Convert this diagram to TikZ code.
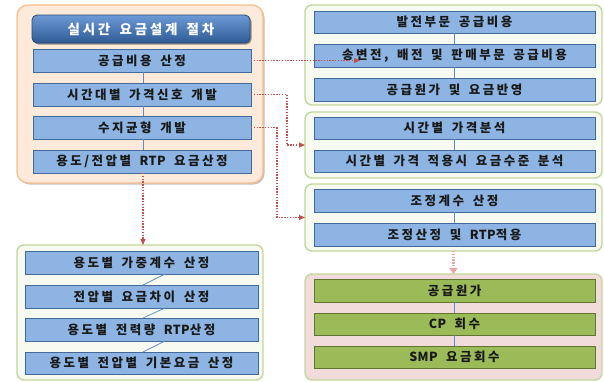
\documentclass[tikz,border=0pt]{standalone}
\usepackage{fontspec}
\newfontfamily\kr{Noto Sans CJK KR}[LetterSpace=20,WordSpace=1.6]
\newfontfamily\krlat{Noto Sans CJK KR}[LetterSpace=3]
\newcommand{\lat}[1]{{\krlat\bfseries #1}}
\usetikzlibrary{arrows.meta,shadows}
\definecolor{boxblue}{HTML}{8DB4E2}
\definecolor{boxblueline}{HTML}{41699A}
\definecolor{boxgreen}{HTML}{9BBB59}
\definecolor{boxgreenline}{HTML}{5F7530}
\definecolor{peachfill}{HTML}{FDEADA}
\definecolor{peachline}{HTML}{F9BE8F}
\definecolor{greenframe}{HTML}{C3D69B}
\definecolor{greenfill}{HTML}{F7FAF0}
\definecolor{pinkfill}{HTML}{F2DCDB}
\definecolor{arrowred}{HTML}{C0504D}
\definecolor{arrowpink}{HTML}{E6A5A3}
\definecolor{linkblue}{HTML}{5B8CC8}
\definecolor{titletop}{HTML}{6D9AD6}
\definecolor{titlebot}{HTML}{2E5A94}
\begin{document}
\begin{tikzpicture}[x=1pt,y=-1pt,
  every node/.style={inner sep=0pt,outer sep=0pt},
  frame/.style={draw,line width=1.4pt,rounded corners=7pt},
  peachframe/.style={frame,draw=peachline,fill=peachfill,rounded corners=11pt,
    drop shadow={shadow xshift=1.5pt,shadow yshift=-1.5pt,opacity=0.25,fill=black}},
  gframe/.style={frame,draw=greenframe,fill=greenfill},
  pframe/.style={frame,draw=greenframe,fill=pinkfill},
  bluebox/.style={draw=boxblueline,line width=0.8pt,fill=boxblue,
    font=\kr\bfseries\fontsize{12.5}{14}\selectfont,text=black!90,
    drop shadow={shadow xshift=1.2pt,shadow yshift=-1.2pt,opacity=0.35,fill=black}},
  greenbox/.style={bluebox,draw=boxgreenline,fill=boxgreen},
  titlebox/.style={draw=titlebot!80!black,line width=0.8pt,rounded corners=5pt,
    top color=titletop,bottom color=titlebot,text=white,
    font=\kr\bfseries\fontsize{13.5}{15}\selectfont,
    drop shadow={shadow xshift=1.5pt,shadow yshift=-1.5pt,opacity=0.4,fill=black}},
  link/.style={draw=linkblue,line width=0.7pt},
  redarrow/.style={draw=arrowred,line width=1.2pt,dash pattern=on 1.4pt off 1.4pt,
    -{Triangle[length=6pt,width=5pt]}},
  pinkarrow/.style={draw=arrowpink,line width=2.2pt,dash pattern=on 1.4pt off 1.4pt,
    -{Triangle[length=6pt,width=8pt]}}
]
\useasboundingbox (0,0) rectangle (604,381);
% frames
\node[peachframe,minimum width=246pt,minimum height=178pt] (LF) at (140,94) {};
\node[gframe,minimum width=297pt,minimum height=100pt] (G1) at (453.5,55) {};
\node[gframe,minimum width=297pt,minimum height=66pt] (G2) at (453.5,145) {};
\node[gframe,minimum width=297pt,minimum height=67pt] (G3) at (453.5,217.5) {};
\node[pframe,minimum width=297pt,minimum height=106pt] (G4) at (453.5,327) {};
\node[gframe,minimum width=246pt,minimum height=135pt] (BF) at (140,312.5) {};
% left top
\node[titlebox,minimum width=218pt,minimum height=28pt] (T) at (141,29) {실시간 요금설계 절차};
\node[bluebox,minimum width=218pt,minimum height=23pt] (B1) at (142,60.5) {공급비용 산정};
\node[bluebox,minimum width=218pt,minimum height=23pt] (B2) at (142,94.5) {시간대별 가격신호 개발};
\node[bluebox,minimum width=218pt,minimum height=23pt] (B3) at (142,127.5) {수지균형 개발};
\node[bluebox,minimum width=218pt,minimum height=23pt] (B4) at (142,161.5) {용도/전압별 \lat{RTP} 요금산정};
% right
\node[bluebox,minimum width=281pt,minimum height=22pt] (R1) at (454.5,22) {발전부문 공급비용};
\node[bluebox,minimum width=281pt,minimum height=23pt] (R2) at (454.5,55.5) {송변전, 배전 및 판매부문 공급비용};
\node[bluebox,minimum width=281pt,minimum height=23pt] (R3) at (454.5,89.5) {공급원가 및 요금반영};
\node[bluebox,minimum width=281pt,minimum height=22pt] (R4) at (454.5,128) {시간별 가격분석};
\node[bluebox,minimum width=281pt,minimum height=22pt] (R5) at (454.5,161) {시간별 가격 적용시 요금수준 분석};
\node[bluebox,minimum width=281pt,minimum height=23pt] (R6) at (454.5,200.5) {조정계수 산정};
\node[bluebox,minimum width=281pt,minimum height=23pt] (R7) at (454.5,234.5) {조정산정 및 \lat{RTP}적용};
\node[greenbox,minimum width=281pt,minimum height=23pt] (R8) at (454.5,290.5) {공급원가};
\node[greenbox,minimum width=281pt,minimum height=22pt] (R9) at (454.5,324) {\lat{CP} 회수};
\node[greenbox,minimum width=281pt,minimum height=22pt] (R10) at (454.5,357) {\lat{SMP} 요금회수};
% bottom left
\node[bluebox,minimum width=233pt,minimum height=23pt] (L1) at (141.5,262.5) {용도별 가중계수 산정};
\node[bluebox,minimum width=233pt,minimum height=23pt] (L2) at (141.5,296.5) {전압별 요금차이 산정};
\node[bluebox,minimum width=233pt,minimum height=23pt] (L3) at (141.5,329.5) {용도별 전력량 \lat{RTP}산정};
\node[bluebox,minimum width=233pt,minimum height=22pt] (L4) at (141.5,363) {용도별 전압별 기본요금 산정};
% blue links
\draw[link] ([xshift=1pt]B1.south) -- ([xshift=1pt]B2.north);
\draw[link] ([xshift=1pt]B2.south) -- ([xshift=1pt]B3.north);
\draw[link] ([xshift=1pt]B3.south) -- ([xshift=1pt]B4.north);
\draw[link] (R1.south) -- (R2.north);
\draw[link] (R2.south) -- (R3.north);
\draw[link] (R4.south) -- (R5.north);
\draw[link] (R6.south) -- (R7.north);
\draw[link] (R8.south) -- (R9.north);
\draw[link] (R9.south) -- (R10.north);
\draw[link] ([xshift=23.5pt]L1.south) -- ([xshift=1.5pt]L2.north);
\draw[link] ([xshift=23.5pt]L2.south) -- ([xshift=1.5pt]L3.north);
\draw[link] ([xshift=23.5pt]L3.south) -- ([xshift=1.5pt]L4.north);
% dotted arrows
\draw[redarrow] (B1.east) -- ([xshift=46pt]R2.west |- B1.east);
\draw[redarrow] (B2.east) -- ([xshift=36pt]B2.east) |- (G2.west);
\draw[redarrow] (B3.east) -- ([xshift=26pt]B3.east) |- (G3.west);
\draw[redarrow] ([xshift=1pt]B4.south) -- ([xshift=1pt]B4.south |- BF.north);
\draw[pinkarrow] (G3.south) -- (G4.north);
\end{tikzpicture}
\end{document}
